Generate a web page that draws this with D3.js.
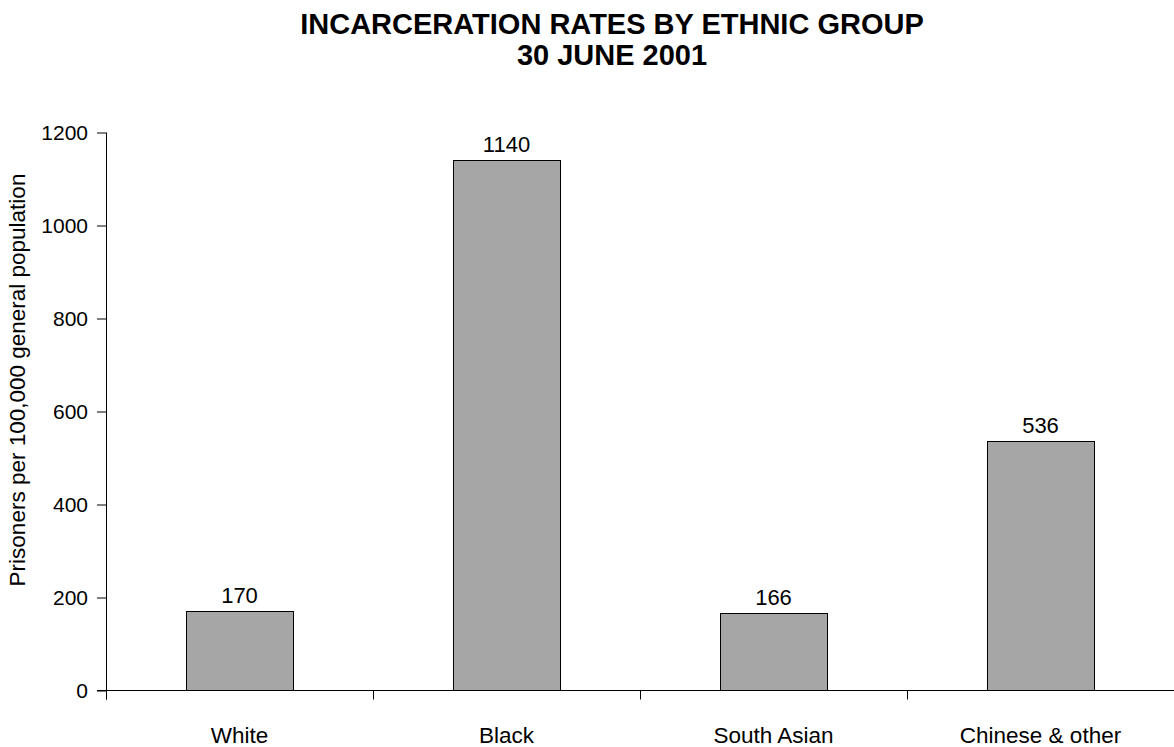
<!DOCTYPE html>
<html><head><meta charset="utf-8">
<script src="https://cdn.jsdelivr.net/npm/d3@7"></script>
<style>body{margin:0;background:#fff;}svg{display:block;font-family:"Liberation Sans",Arial,sans-serif;}</style>
</head><body>
<svg id="c" width="1174" height="747"></svg>
<script>
const categories = ["White", "Black", "South Asian", "Chinese & other"];
const values = [170, 1140, 166, 536];
const yTicks = [0, 200, 400, 600, 800, 1000, 1200];
const titleLines = ["INCARCERATION RATES BY ETHNIC GROUP", "30 JUNE 2001"];
const yLabel = "Prisoners per 100,000 general population";

const svg = d3.select("#c");
const pL = 106, pR = 1174, pT = 132.5, pB = 690.5;

const x = d3.scaleBand().domain(categories).range([pL, pR]).padding(0);
const y = d3.scaleLinear().domain([0, 1200]).range([pB, pT]);

// title
svg.append("g").selectAll("text").data(titleLines).join("text")
  .attr("x", 612).attr("y", (d, i) => 34 + i * 31)
  .attr("text-anchor", "middle").attr("font-weight", "bold")
  .attr("font-size", 29).attr("fill", "#000").text(d => d);

// bars
const bw = x.bandwidth() * 0.4;
svg.append("g").selectAll("rect").data(values).join("rect")
  .attr("x", (d, i) => Math.round(x(categories[i]) + (x.bandwidth() - bw) / 2) + 0.5)
  .attr("y", d => Math.round(y(d)) + 0.5)
  .attr("width", Math.round(bw))
  .attr("height", d => pB - Math.round(y(d)) - 0.5)
  .attr("fill", "#a6a6a6").attr("stroke", "#000").attr("stroke-width", 1);

// value labels
svg.append("g").selectAll("text").data(values).join("text")
  .attr("x", (d, i) => x(categories[i]) + x.bandwidth() / 2)
  .attr("y", d => y(d) - 8)
  .attr("text-anchor", "middle").attr("font-size", 22).attr("fill", "#000")
  .text(d => d);

// y axis
const yAxis = svg.append("g").attr("transform", `translate(${pL},0)`)
  .call(d3.axisLeft(y).tickValues(yTicks).tickFormat(d3.format("d")).tickSize(9).tickPadding(9).tickSizeOuter(0));
yAxis.select(".domain").remove();
yAxis.append("line").attr("x1", 0.5).attr("x2", 0.5).attr("y1", pT).attr("y2", pB + 9).attr("stroke", "#000");
yAxis.selectAll("text").attr("font-size", 21).attr("font-family", "Liberation Sans, Arial, sans-serif").attr("fill", "#000");
yAxis.selectAll(".tick line").attr("stroke", "#000");

// x axis
const xAxis = svg.append("g").attr("transform", `translate(0,${pB})`);
xAxis.append("line").attr("x1", pL - 9).attr("x2", pR).attr("y1", 0).attr("y2", 0).attr("stroke", "#000");
const bounds = categories.map(c => x(c)).concat([pR]);
xAxis.selectAll("line.tk").data(bounds).join("line").attr("class", "tk")
  .attr("x1", d => Math.round(d) + 0.5).attr("x2", d => Math.round(d) + 0.5)
  .attr("y1", 0).attr("y2", 9).attr("stroke", "#000");
xAxis.selectAll("text").data(categories).join("text")
  .attr("x", d => x(d) + x.bandwidth() / 2).attr("y", 52)
  .attr("text-anchor", "middle").attr("font-size", 22.5).attr("fill", "#000")
  .text(d => d);

// y label
svg.append("text").attr("transform", "translate(25,380) rotate(-90)")
  .attr("text-anchor", "middle").attr("font-size", 22.5).attr("fill", "#000").text(yLabel);
</script>
</body></html>
